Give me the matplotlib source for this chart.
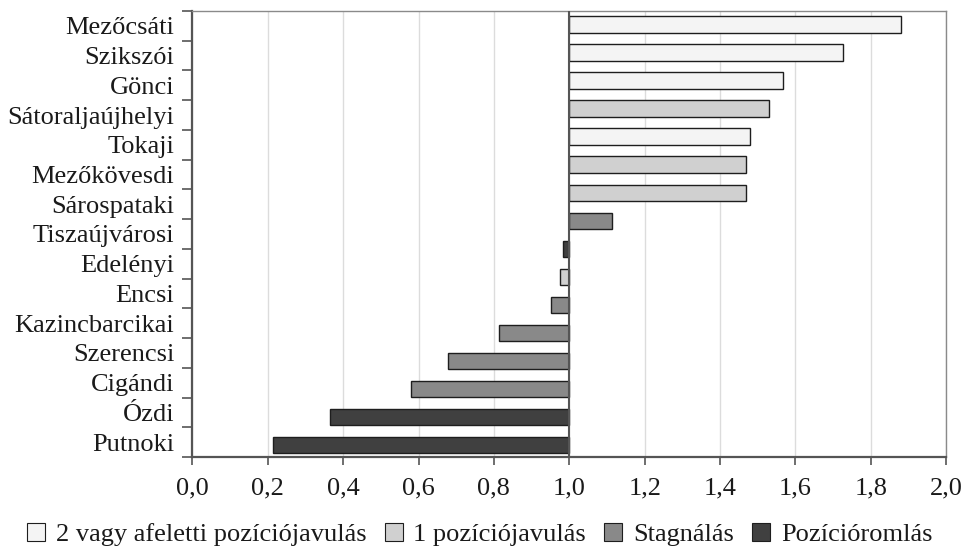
import numpy as np
import matplotlib
matplotlib.use("Agg")
import matplotlib.pyplot as plt
from matplotlib.patches import Patch

plt.rcParams['font.family'] = ['Liberation Serif', 'DejaVu Serif']

# kistérségek (tengelyfeliratok)
districts = ['Mezőcsáti', 'Szikszói', 'Gönci', 'Sátoraljaújhelyi', 'Tokaji',
             'Mezőkövesdi', 'Sárospataki', 'Tiszaújvárosi', 'Edelényi', 'Encsi',
             'Kazincbarcikai', 'Szerencsi', 'Cigándi', 'Ózdi', 'Putnoki']

# oszlopok értékei felülről lefelé
values = [1.879, 1.727, 1.566, 1.531, 1.480, 1.468, 1.468, 1.114,
          0.984, 0.976, 0.951, 0.814, 0.677, 0.581, 0.366, 0.214]
# kategória: 0 = 2 vagy afeletti javulás, 1 = 1 pozíció, 2 = stagnálás, 3 = romlás
groups = [0, 0, 0, 1, 0, 1, 1, 2, 3, 1, 2, 2, 2, 2, 3, 3]

legend_labels = ['2 vagy afeletti pozíciójavulás', '1 pozíciójavulás',
                 'Stagnálás', 'Pozícióromlás']
group_colors = ['#f4f4f4', '#d0d0d0', '#898989', '#404040']

x_ticks = [0.0, 0.2, 0.4, 0.6, 0.8, 1.0, 1.2, 1.4, 1.6, 1.8, 2.0]
base = 1.0

fig = plt.figure(figsize=(9.69, 5.49), dpi=100)
ax = fig.add_axes([0.1985, 0.1676, 0.778, 0.8124])

ypos = np.arange(len(values))
widths = [v - base for v in values]
colors = [group_colors[g] for g in groups]
ax.barh(ypos, widths, left=base, height=0.58, color=colors,
        edgecolor='#1e1e1e', linewidth=1.0, zorder=3)

ax.set_xlim(0, 2)
y_top, y_bot = -0.48, 15.43
ax.set_ylim(y_bot, y_top)

# rács és bázisvonal
ax.set_xticks(x_ticks)
ax.set_xticklabels([f'{t:.1f}'.replace('.', ',') for t in x_ticks])
ax.grid(axis='x', color='#dcdcdc', linewidth=1.0, zorder=0)
ax.axvline(base, color='#555555', linewidth=1.5, zorder=4)

# feliratok a 15 kategória közepére, osztásjelek a határokra
n = len(districts)
step = (y_bot - y_top) / n
bounds = [y_top + i * step for i in range(n + 1)]
centers = [y_top + (i + 0.5) * step for i in range(n)]
ax.set_yticks(bounds)
ax.set_yticklabels([])
ax.set_yticks(centers, minor=True)
ax.set_yticklabels(districts, minor=True)
ax.tick_params(axis='y', which='major', length=7, width=1.2, color='#555555')
ax.tick_params(axis='y', which='minor', length=0, labelsize=19, pad=13,
               labelcolor='#1a1a1a')
ax.tick_params(axis='x', length=6, width=1.2, color='#555555',
               labelsize=19, pad=9, labelcolor='#1a1a1a')

for s in ['left', 'bottom']:
    ax.spines[s].set_color('#555555')
    ax.spines[s].set_linewidth(1.6)
for s in ['top', 'right']:
    ax.spines[s].set_color('#8a8a8a')
    ax.spines[s].set_linewidth(1.0)

handles = [Patch(facecolor=c, edgecolor='#1e1e1e', linewidth=0.8)
           for c in group_colors]
leg = fig.legend(handles, legend_labels, loc='center',
                 bbox_to_anchor=(0.495, 0.027), ncol=4, frameon=False,
                 fontsize=19, handlelength=0.68, handleheight=0.68,
                 handletextpad=0.4, columnspacing=0.7)
for t in leg.get_texts():
    t.set_color('#1a1a1a')

fig.savefig('out.png', dpi=100)
